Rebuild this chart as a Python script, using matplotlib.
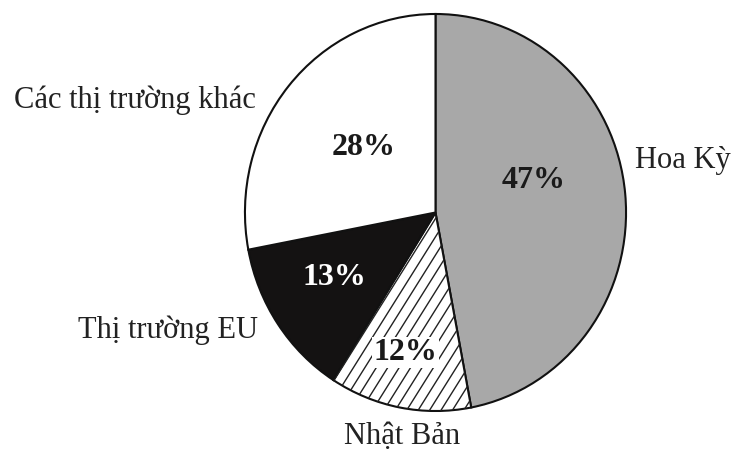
import numpy as np
import matplotlib.pyplot as plt

plt.rcParams['font.family'] = ['Liberation Serif', 'DejaVu Serif']

# market shares (%)
markets = ['Hoa Kỳ', 'Nhật Bản', 'Thị trường EU', 'Các thị trường khác']
shares = [47, 12, 13, 28]
colors = ['#a8a8a8', 'white', '#141212', 'white']
pct_colors = ['#1a1a1a', '#1a1a1a', 'white', '#1a1a1a']

# label placement (data units of the pie axes)
pct_pos = [(0.513, 0.16), (-0.157, -0.705), (-0.529, -0.325), (-0.377, 0.325)]
name_pos = [(1.30, 0.26), (-0.175, -1.13), (-1.405, -0.595), (-1.578, 0.565)]

fig = plt.figure(figsize=(7.35, 4.51), dpi=100)
ax = fig.add_axes([244 / 735, 1 - 412 / 451, 383 / 735, 399 / 451])

wedges, _ = ax.pie(shares, startangle=90, counterclock=False, colors=colors,
                   wedgeprops=dict(edgecolor='#111111', linewidth=1.5))
ax.set_aspect('auto')
ax.set_xlim(-1.005, 1.005)
ax.set_ylim(-1.005, 1.005)

# diagonal hatching for the Japan slice
slope = 1.53
ys = np.array([-1.1, 1.1])
for x0 in np.arange(-2.5, 2.5, 0.06):
    ln, = ax.plot(x0 + ys / slope, ys, color='#222222', lw=1.0, zorder=2)
    ln.set_clip_path(wedges[1])

for (x, y), s, c in zip(pct_pos, shares, pct_colors):
    box = dict(facecolor='white', edgecolor='none', pad=1) if s == 12 else None
    ax.text(x, y, f'{s}%', ha='center', va='center', fontsize=23,
            fontweight='bold', color=c, zorder=5, bbox=box)

for (x, y), name in zip(name_pos, markets):
    ax.text(x, y, name, ha='center', va='center', fontsize=22,
            color='#222222', clip_on=False)

fig.savefig('out.png', dpi=100)
